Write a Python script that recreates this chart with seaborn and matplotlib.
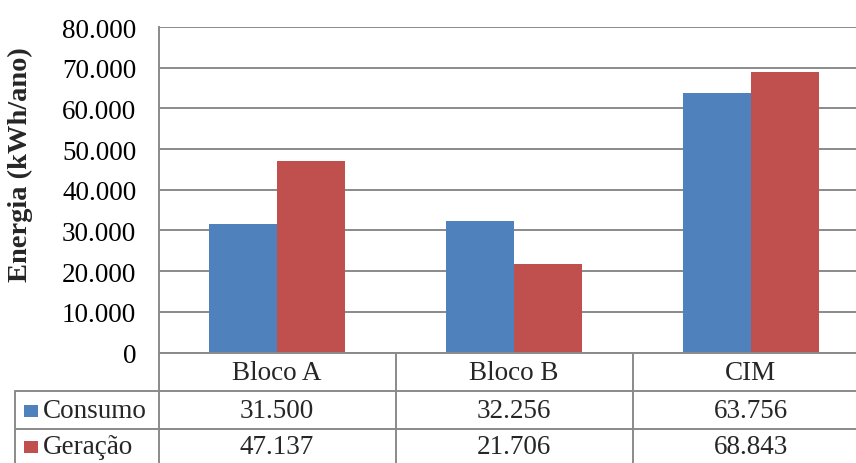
import matplotlib
matplotlib.use("Agg")
import matplotlib.pyplot as plt
import matplotlib.ticker as mticker
from matplotlib.patches import Rectangle
from matplotlib.transforms import blended_transform_factory
import pandas as pd
import seaborn as sns

# Annual energy per building
categories = ["Bloco A", "Bloco B", "CIM"]
series_names = ["Consumo", "Geração"]
consumo = [31500, 32256, 63756]
geracao = [47137, 21706, 68843]
y_ticks = [0, 10000, 20000, 30000, 40000, 50000, 60000, 70000, 80000]
y_label = "Energia (kWh/ano)"

colors = ["#4F81BD", "#C0504D"]
grid_color = "#8A8A8A"
fs = 19.5


def fmt_pt(v):
    return f"{int(v):,}".replace(",", ".")


df = pd.DataFrame({
    "categoria": categories * 2,
    "serie": [series_names[0]] * 3 + [series_names[1]] * 3,
    "valor": consumo + geracao,
})

sns.set_theme(style="white")
plt.rcParams["font.family"] = ["Liberation Serif", "DejaVu Serif"]

W, H = 856, 464
fig = plt.figure(figsize=(W / 100, H / 100), dpi=100)
ax_left, ax_right, ax_top, ax_bottom = 158.5, 869.5, 28.0, 353.5
ax = fig.add_axes([ax_left / W, (H - ax_bottom) / H,
                   (ax_right - ax_left) / W, (ax_bottom - ax_top) / H])

sns.barplot(data=df, x="categoria", y="valor", hue="serie", order=categories,
            hue_order=series_names, palette=colors, width=0.57, gap=0,
            saturation=1, linewidth=0, legend=False, ax=ax)

ax.set_xlim(-0.5, len(categories) - 0.5)
ax.set_ylim(0, 80000)
ax.set_yticks(y_ticks)
ax.yaxis.set_major_formatter(mticker.FuncFormatter(lambda v, p: fmt_pt(v)))
ax.tick_params(axis="y", length=0, pad=16, labelsize=fs, colors="black")
ax.set_xticks([])
ax.set_xlabel("")
ax.set_ylabel(y_label, fontsize=20.5, fontweight="bold")
ax.yaxis.set_label_coords(-0.1765, 0.58)

ax.grid(axis="y", color=grid_color, linewidth=1.4)
ax.set_axisbelow(True)
for side in ["top", "right"]:
    ax.spines[side].set_visible(False)
for side in ["left", "bottom"]:
    ax.spines[side].set_color(grid_color)
    ax.spines[side].set_linewidth(1.4)

# Data table under the plot
tr = blended_transform_factory(ax.transData, ax.transAxes)
px_x = (ax_right - ax_left) / len(categories)   # pixels per category
px_y = ax_bottom - ax_top                        # axes height in pixels


def ax_y(ypix):
    return (ax_bottom - ypix) / px_y


def dx(xpix):
    return (xpix - ax_left) / px_x - 0.5


row_edges = [353.5, 392, 430, 470]
table_left = dx(15)
right_end = len(categories) - 0.5
line_kw = dict(color=grid_color, linewidth=1.4, transform=tr, clip_on=False)

# horizontal rules between rows
for yp in row_edges[1:3]:
    ax.plot([table_left, right_end], [ax_y(yp)] * 2, **line_kw)
# vertical rules
for i in range(len(categories)):
    ax.plot([i - 0.5, i - 0.5], [ax_y(row_edges[0]), ax_y(row_edges[-1])], **line_kw)
ax.plot([table_left, table_left], [ax_y(row_edges[1]), ax_y(row_edges[-1])], **line_kw)

# category header row
yc = ax_y((row_edges[0] + row_edges[1]) / 2 + 1)
for i, c in enumerate(categories):
    ax.text(i, yc, c, transform=tr, ha="center", va="center", fontsize=fs, clip_on=False)

# value rows with legend keys
for r, (name, vals, col) in enumerate(zip(series_names, [consumo, geracao], colors)):
    top, bot = row_edges[r + 1], row_edges[r + 2]
    if r == 1:
        bot = 464
    ymid = (top + bot) / 2 + 1
    ax.add_patch(Rectangle((dx(24), ax_y(ymid + 6)), dx(38) - dx(24), 12 / px_y,
                           facecolor=col, edgecolor="none", transform=tr, clip_on=False))
    ax.text(dx(43), ax_y(ymid), name, transform=tr, ha="left", va="center",
            fontsize=fs, clip_on=False)
    for i, v in enumerate(vals):
        ax.text(i, ax_y(ymid), fmt_pt(v), transform=tr, ha="center", va="center",
                fontsize=fs, clip_on=False)

fig.savefig("out.png", dpi=100, facecolor="white")
